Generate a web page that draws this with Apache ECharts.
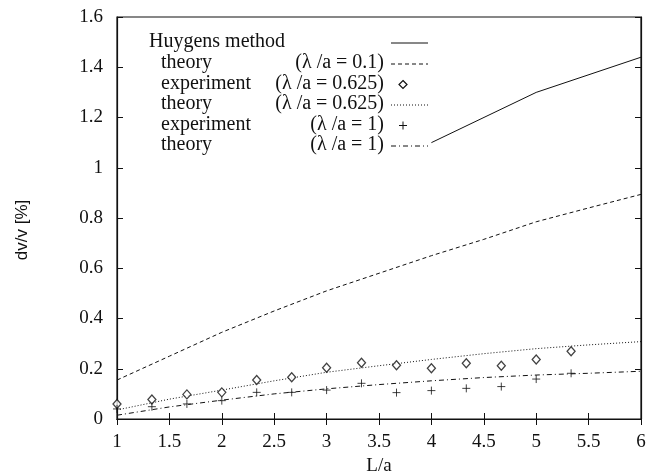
<!DOCTYPE html>
<html>
<head>
<meta charset="utf-8">
<script src="https://cdn.jsdelivr.net/npm/echarts@6/dist/echarts.min.js"></script>
<style>html,body{margin:0;padding:0;background:#fff}#c{width:649px;height:471px}</style>
</head>
<body>
<div id="c"></div>
<script>
// ---- data ----
var xTheory = [1, 1.5, 2, 2.5, 3, 3.5, 4, 4.5, 5, 5.5, 6];
var theory01 = [0.155, 0.25, 0.345, 0.43, 0.51, 0.58, 0.65, 0.715, 0.785, 0.84, 0.894];
var theory0625 = [0.036, 0.079, 0.115, 0.152, 0.186, 0.212, 0.237, 0.26, 0.28, 0.295, 0.308];
var theory1 = [0.015, 0.048, 0.075, 0.1, 0.12, 0.137, 0.152, 0.165, 0.175, 0.182, 0.19];
var huygensX = [4, 5, 6];
var huygensY = [1.1, 1.3, 1.44];
var expX = [1, 1.333, 1.667, 2, 2.333, 2.667, 3, 3.333, 3.667, 4, 4.333, 4.667, 5, 5.333];
var exp0625 = [0.06, 0.078, 0.098, 0.106, 0.155, 0.166, 0.204, 0.224, 0.214, 0.202, 0.222, 0.212, 0.237, 0.27];
var exp1 = [0.04, 0.049, 0.06, 0.073, 0.106, 0.106, 0.115, 0.142, 0.105, 0.113, 0.122, 0.129, 0.159, 0.182];
var legendNames = ['Huygens method', 'theory', 'experiment', 'theory', 'experiment', 'theory'];
var legendParams = ['', '(\u03bb /a = 0.1)', '(\u03bb /a = 0.625)', '(\u03bb /a = 0.625)', '(\u03bb /a = 1)', '(\u03bb /a = 1)'];
var xName = 'L/a';
var yName = 'dv/v [%]';

function pairs(xs, ys) { return xs.map(function (x, i) { return [x, ys[i]]; }); }

var serif = 'Liberation Serif';
var ink = '#111';

var dashStyles = [null, [4, 3], null, [1, 2], null, [5, 3, 1, 3]];
var chart = echarts.init(document.getElementById('c'), null, {renderer: 'canvas'});

// legend graphics
var legendEls = [];
var rowY = [43, 64, 84.5, 105, 125.5, 146];
for (var i = 0; i < legendNames.length; i++) {
  var y = rowY[i];
  legendEls.push({type: 'text', left: i === 0 ? 149 : 161, top: y - 11,
    style: {text: legendNames[i], font: '20px "' + serif + '"', fill: ink}});
  if (legendParams[i]) {
    legendEls.push({type: 'text', x: 384, y: y - 11,
      style: {text: legendParams[i], font: '20px "' + serif + '"', fill: ink, textAlign: 'right'}});
  }
  if (i === 2) {
    legendEls.push({type: 'polygon', shape: {points: [[403, y - 4], [407, y], [403, y + 4], [399, y]]},
      style: {fill: 'none', stroke: ink, lineWidth: 1.2}});
  } else if (i === 4) {
    legendEls.push({type: 'line', shape: {x1: 399, y1: y, x2: 407, y2: y}, style: {stroke: ink, lineWidth: 1}});
    legendEls.push({type: 'line', shape: {x1: 403, y1: y - 4, x2: 403, y2: y + 4}, style: {stroke: ink, lineWidth: 1}});
  } else {
    legendEls.push({type: 'line', shape: {x1: 391, y1: y, x2: 428, y2: y},
      style: {stroke: ink, lineWidth: 1, lineDash: dashStyles[i] || null}});
  }
}
legendEls.push({type: 'text', x: 22, y: 230, rotation: Math.PI / 2,
  style: {text: yName, font: '17px "Liberation Sans"', fill: ink, textAlign: 'center', textVerticalAlign: 'middle'}});

function lineSeries(name, data, dash) {
  return {type: 'line', name: name, data: data, showSymbol: false, smooth: false,
    lineStyle: {color: ink, width: 1, type: dash || 'solid'}, xAxisIndex: 0, yAxisIndex: 0, silent: true};
}

var option = {
  animation: false,
  backgroundColor: '#fff',
  grid: {left: 117, right: 8, top: 17, bottom: 52, containLabel: false, outerBoundsMode: 'none',
    show: true, borderColor: ink, borderWidth: 1.2, backgroundColor: 'transparent'},
  xAxis: [{
    type: 'value', min: 1, max: 6, interval: 0.5, position: 'bottom',
    name: xName, nameLocation: 'middle', nameGap: 36,
    nameTextStyle: {fontFamily: serif, fontSize: 19, color: ink},
    axisLine: {show: true, onZero: false, lineStyle: {color: ink, width: 1.2}},
    axisTick: {show: true, inside: true, length: 6, lineStyle: {color: ink}},
    axisLabel: {fontFamily: serif, fontSize: 19, color: ink, margin: 14},
    splitLine: {show: false}
  }, {
    type: 'value', min: 1, max: 6, interval: 0.5, position: 'top',
    axisLine: {show: true, lineStyle: {color: ink, width: 1.2}},
    axisTick: {show: true, inside: true, length: 6, lineStyle: {color: ink}},
    axisLabel: {show: false}, splitLine: {show: false}
  }],
  yAxis: [{
    type: 'value', min: 0, max: 1.6, interval: 0.2, position: 'left',
    axisLine: {show: true, onZero: false, lineStyle: {color: ink, width: 1.2}},
    axisTick: {show: true, inside: true, length: 6, lineStyle: {color: ink}},
    axisLabel: {fontFamily: serif, fontSize: 19, color: ink, margin: 14},
    splitLine: {show: false}
  }, {
    type: 'value', min: 0, max: 1.6, interval: 0.2, position: 'right',
    axisLine: {show: true, lineStyle: {color: ink, width: 1.2}},
    axisTick: {show: true, inside: true, length: 6, lineStyle: {color: ink}},
    axisLabel: {show: false}, splitLine: {show: false}
  }],
  series: [
    lineSeries('Huygens method', pairs(huygensX, huygensY), 'solid'),
    lineSeries('theory 0.1', pairs(xTheory, theory01), [4, 3]),
    {type: 'scatter', name: 'experiment 0.625', data: pairs(expX, exp0625), symbol: 'diamond', symbolSize: [8, 9],
      itemStyle: {color: '#fff', borderColor: ink, borderWidth: 1.3}, z: 5},
    lineSeries('theory 0.625', pairs(xTheory, theory0625), [1, 2]),
    {type: 'scatter', name: 'experiment 1', data: pairs(expX, exp1),
      symbol: 'path://M4,0L4,8M0,4L8,4', symbolSize: 8,
      itemStyle: {color: 'none', borderColor: ink, borderWidth: 1}, z: 5},
    lineSeries('theory 1', pairs(xTheory, theory1), [5, 3, 1, 3])
  ],
  graphic: legendEls
};
chart.setOption(option);
</script>
</body>
</html>
